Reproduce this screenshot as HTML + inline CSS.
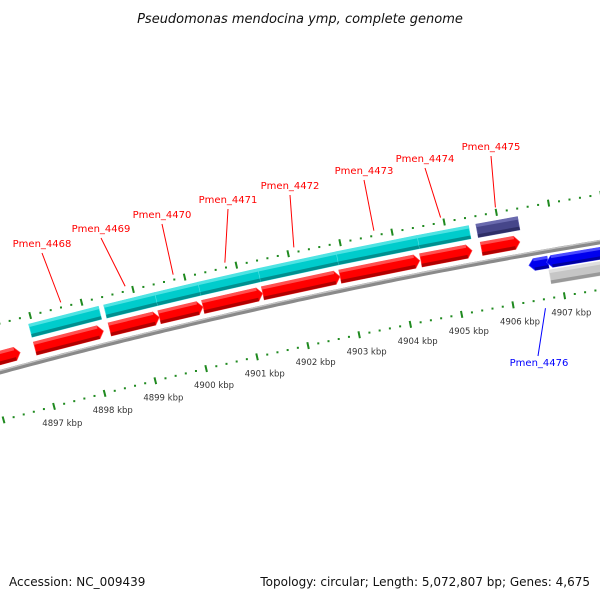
<!DOCTYPE html>
<html><head><meta charset="utf-8"><style>
html,body{margin:0;padding:0;background:#fff;width:600px;height:600px;overflow:hidden}
svg text{font-family:"DejaVu Sans","Liberation Sans",sans-serif}
</style></head><body>
<svg id="map" width="600" height="600" viewBox="0 0 600 600" xmlns="http://www.w3.org/2000/svg">
<text x="300" y="23" text-anchor="middle" font-size="13" font-style="italic" fill="#111">Pseudomonas mendocina ymp, complete genome</text>
<g id="rulers"></g><g id="genes"></g><g id="labels"></g>
<text x="9" y="586" font-size="12" fill="#111">Accession: NC_009439</text>
<text x="590" y="586" text-anchor="end" font-size="12" fill="#111">Topology: circular; Length: 5,072,807 bp; Genes: 4,675</text>
</svg>
<script>
const rulerTicksKbp=[4894,4895,4896,4897,4898,4899,4900,4901,4902,4903,4904,4905,4906,4907,4908,4909];
const lowerLabelsKbp=[4897,4898,4899,4900,4901,4902,4903,4904,4905,4906,4907];
const cyanStarts=[4896.93,4898.39,4899.38,4900.22,4901.38,4902.89,4904.45];
const cyanEnds=[4898.29,4899.38,4900.22,4901.38,4902.89,4904.45,4905.44];
const purpleStarts=[4905.58];
const purpleEnds=[4906.38];
const redStarts=[4895.64,4896.93,4898.39,4899.36,4900.21,4901.37,4902.87,4904.43,4905.6];
const redEnds=[4896.64,4898.27,4899.36,4900.21,4901.37,4902.87,4904.41,4905.42,4906.34];
const blueStarts=[4906.43,4906.77];
const blueEnds=[4906.8,4908.2];
const grayStarts=[4906.79];
const grayEnds=[4908.3];
const geneNames=["Pmen_4468","Pmen_4469","Pmen_4470","Pmen_4471","Pmen_4472","Pmen_4473","Pmen_4474","Pmen_4475"];
const geneMidsKbp=[4897.62,4898.87,4899.8,4900.8,4902.13,4903.67,4904.95,4906.0];

const NS="http://www.w3.org/2000/svg";
const cx=1592,cy=6268,R=6107,degPerKbp=0.494,k0=4900,phi0=-13.22;
function P(k,dr){const a=(phi0+(k-k0)*degPerKbp)*Math.PI/180;const r=R+dr;return [cx+r*Math.sin(a),cy-r*Math.cos(a)];}
function mk(tag,attrs,parent){const e=document.createElementNS(NS,tag);for(const k in attrs)e.setAttribute(k,attrs[k]);parent.appendChild(e);return e;}
function poly(pts){return pts.map(p=>p[0].toFixed(1)+","+p[1].toFixed(1)).join(" ");}
const rul=document.getElementById("rulers"),gen=document.getElementById("genes"),lab=document.getElementById("labels");

function arcPts(k1,k2,dr){const pts=[];for(let k=k1;k<=k2;k+=0.1)pts.push(P(k,dr));return pts;}
let bb=mk("polyline",{points:poly(arcPts(4894,4910,0)),fill:"none",stroke:"#8a8a8a","stroke-width":4.5},gen);


let bbh=mk("polyline",{points:poly(arcPts(4894,4910,1.5)),fill:"none",stroke:"#c4c4c4","stroke-width":1.3},gen);



[47,-47].forEach(function(dr,ri){
  rulerTicksKbp.forEach(function(k){
    const a=P(k,dr-3.5),b=P(k,dr+3.5);
    const t=mk("line",{x1:a[0],y1:a[1],x2:b[0],y2:b[1],stroke:"#1f8a1f","stroke-width":2},rul);
    
    
    for(let j=1;j<5;j++){
      const c=P(k+j*0.2,dr);
      const d=mk("rect",{x:c[0]-1,y:c[1]-1,width:2,height:2,fill:"#1f8a1f"},rul);
      
      
    }
  });
});
lowerLabelsKbp.forEach(function(k){
  const p=P(k,-64);
  const t=mk("text",{x:p[0]+4,y:p[1]+3,"text-anchor":"middle","font-size":"8.5",fill:"#333"},rul);
  t.textContent=k+" kbp";
  
  
});

function gene(s,e,r0,r1,dir,main,light,dark,name){
  const tip=0.1;
  let pts;
  const rm=(r0+r1)/2;
  if(dir>0){const ee=Math.max(s,e-tip);pts=[P(s,r1),P(ee,r1),P(e,rm),P(ee,r0),P(s,r0)];}
  else if(dir<0){const ss=Math.min(e,s+tip);pts=[P(s,rm),P(ss,r1),P(e,r1),P(e,r0),P(ss,r0)];}
  else pts=[P(s,r1),P(e,r1),P(e,r0),P(s,r0)];
  const g=mk("polygon",{points:poly(pts),fill:main,stroke:light,"stroke-width":0.6},gen);
  
  
  const h=(r1-r0);
  const s2=dir<0?Math.min(e,s+tip):s, e2=dir>0?Math.max(s,e-tip):e;
  const top=mk("polygon",{points:poly([P(s2,r1),P(e2,r1),P(e2,r1-h*0.22),P(s2,r1-h*0.22)]),fill:light},gen);
  
  
  const bot=mk("polygon",{points:poly([P(s2,r0+h*0.25),P(e2,r0+h*0.25),P(e2,r0),P(s2,r0)]),fill:dark},gen);
  
  
}
cyanStarts.forEach((s,i)=>gene(s,cyanEnds[i],25.5,39,0,"#00cccc","#4fe3e3","#008f8f","cyan-gene"));
purpleStarts.forEach((s,i)=>gene(s,purpleEnds[i],25.5,39,0,"#46468a","#6a6aae","#2e2e66","purple-gene"));
redStarts.forEach((s,i)=>gene(s,redEnds[i],7,20.5,1,"#ff0000","#ff5050","#b00000","red-gene"));
blueStarts.forEach((s,i)=>gene(s,blueEnds[i],-17,-5,-1,"#0000ee","#4a4aff","#0000a0","blue-gene"));
grayStarts.forEach((s,i)=>gene(s,grayEnds[i],-33,-19,0,"#c6c6c6","#dedede","#999999","gray-gene"));

const labelPos=[[42,247],[101,232],[162,218],[228,203],[290,189],[364,174],[425,162],[491,150]];
geneNames.forEach(function(n,i){
  const q=labelPos[i],e=P(geneMidsKbp[i],52);
  const l=mk("line",{x1:q[0],y1:q[1]+6,x2:e[0],y2:e[1],stroke:"#ff0000","stroke-width":1},lab);
  
  
  const t=mk("text",{x:q[0],y:q[1],"text-anchor":"middle","font-size":"10",fill:"#ff0000"},lab);
  t.textContent=n;
  
  
});
const be=P(4906.6,-56);
const bl=mk("line",{x1:538,y1:356,x2:be[0],y2:be[1],stroke:"#0000ff","stroke-width":1},lab);


const bt=mk("text",{x:539,y:366,"text-anchor":"middle","font-size":"10",fill:"#0000ff"},lab);
bt.textContent="Pmen_4476";


</script>
</body></html>
